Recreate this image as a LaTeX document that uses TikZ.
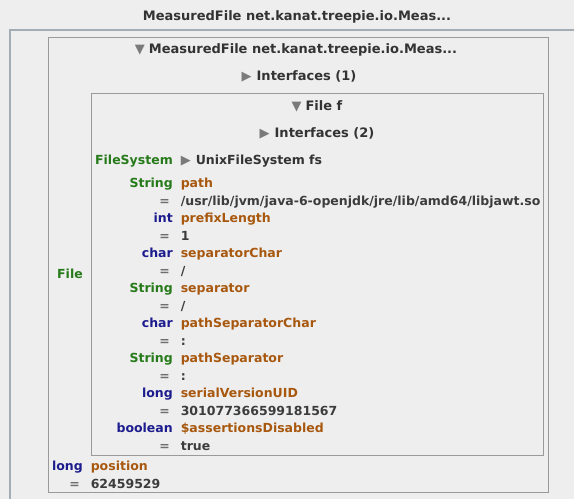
\documentclass[tikz,border=0pt]{standalone}
\usepackage{fontspec}
\setmainfont{DejaVu Sans}
\usetikzlibrary{matrix}

\definecolor{panelbg}{HTML}{EEEEEE}
\definecolor{framegray}{HTML}{9A9A9A}
\definecolor{topline}{HTML}{A4ACB4}
\definecolor{titlegray}{HTML}{333333}
\definecolor{typegreen}{HTML}{267A1A}
\definecolor{typeblue}{HTML}{1C1C8E}
\definecolor{fieldbrown}{HTML}{A8580E}
\definecolor{valuegray}{HTML}{3C3C3C}
\definecolor{eqgray}{HTML}{6E6E6E}
\definecolor{togglegray}{HTML}{7A7A7A}

\newcommand{\openmark}{{\fontsize{13}{13}\selectfont\mdseries\color{togglegray}▼}\hspace{4pt}}
\newcommand{\closedmark}{{\fontsize{13}{13}\selectfont\mdseries\color{togglegray}▶}\hspace{5pt}}
% "=" hangs to the left of the value
\newcommand{\eqmark}{\llap{\textcolor{eqgray}{=}\hspace{11pt}}}

\begin{document}
\begin{tikzpicture}[x=1pt,y=-1pt,
        every node/.style={font=\fontsize{12.5}{14}\selectfont\bfseries,
            text=valuegray, inner sep=0pt},
        box/.style={draw=framegray, line width=0.9pt},
        heading/.style={text=titlegray, font=\fontsize{13}{15}\selectfont\bfseries},
        gtype/.style={text=typegreen},
        btype/.style={text=typeblue},
        fname/.style={text=fieldbrown},
        fieldrows/.style={matrix of nodes, nodes in empty cells,
            column sep=8pt, row sep=5.5pt,
            nodes={text height=9.5pt, text depth=2.5pt},
            column 1/.style={anchor=base east},
            column 2/.style={anchor=base west}}]

    \fill[panelbg] (0,0) rectangle (574,499);
    \useasboundingbox (0,0) rectangle (574,499);

    % frames
    \draw[topline, line width=1.2pt] (574,30) -- (10,30) -- (10,499);
    \draw[box] (48,37) rectangle (548,492);
    \draw[box] (91,93) rectangle (543,455);

    % headings
    \node[heading] (title) at (297,17) {MeasuredFile net.kanat.treepie.io.Meas...};
    \node[heading] (objhead) at (296,50) {\openmark MeasuredFile net.kanat.treepie.io.Meas...};
    \node[heading] (ifaces1) at (299,76) {\closedmark Interfaces (1)};
    \node[heading] (filehead) at (317,106) {\openmark File f};
    \node[heading] (ifaces2) at (317,133) {\closedmark Interfaces (2)};
    \node[gtype] (filelabel) at (70,274) {File};

    \matrix (fields) [fieldrows, anchor=fields-1-1.base east] at (173,164.5)
    {
        |[gtype]| FileSystem& |[text=titlegray]| \closedmark UnixFileSystem fs \\[5.5pt]
        |[gtype]| String& |[fname]| path \\
        & \eqmark /usr/lib/jvm/java-6-openjdk/jre/lib/amd64/libjawt.so \\
        |[btype]| int& |[fname]| prefixLength \\
        & \eqmark 1 \\
        |[btype]| char& |[fname]| separatorChar \\
        & \eqmark / \\
        |[gtype]| String& |[fname]| separator \\
        & \eqmark / \\
        |[btype]| char& |[fname]| pathSeparatorChar \\
        & \eqmark : \\
        |[gtype]| String& |[fname]| pathSeparator \\
        & \eqmark : \\
        |[btype]| long& |[fname]| serialVersionUID \\
        & \eqmark 301077366599181567 \\
        |[btype]| boolean& |[fname]| \$assertionsDisabled \\
        & \eqmark true \\
    };

    \matrix (posrows) [fieldrows, anchor=posrows-1-1.base east] at (83,470.5)
    {
        |[btype]| long& |[fname]| position \\
        & \eqmark 62459529 \\
    };

\end{tikzpicture}
\end{document}
